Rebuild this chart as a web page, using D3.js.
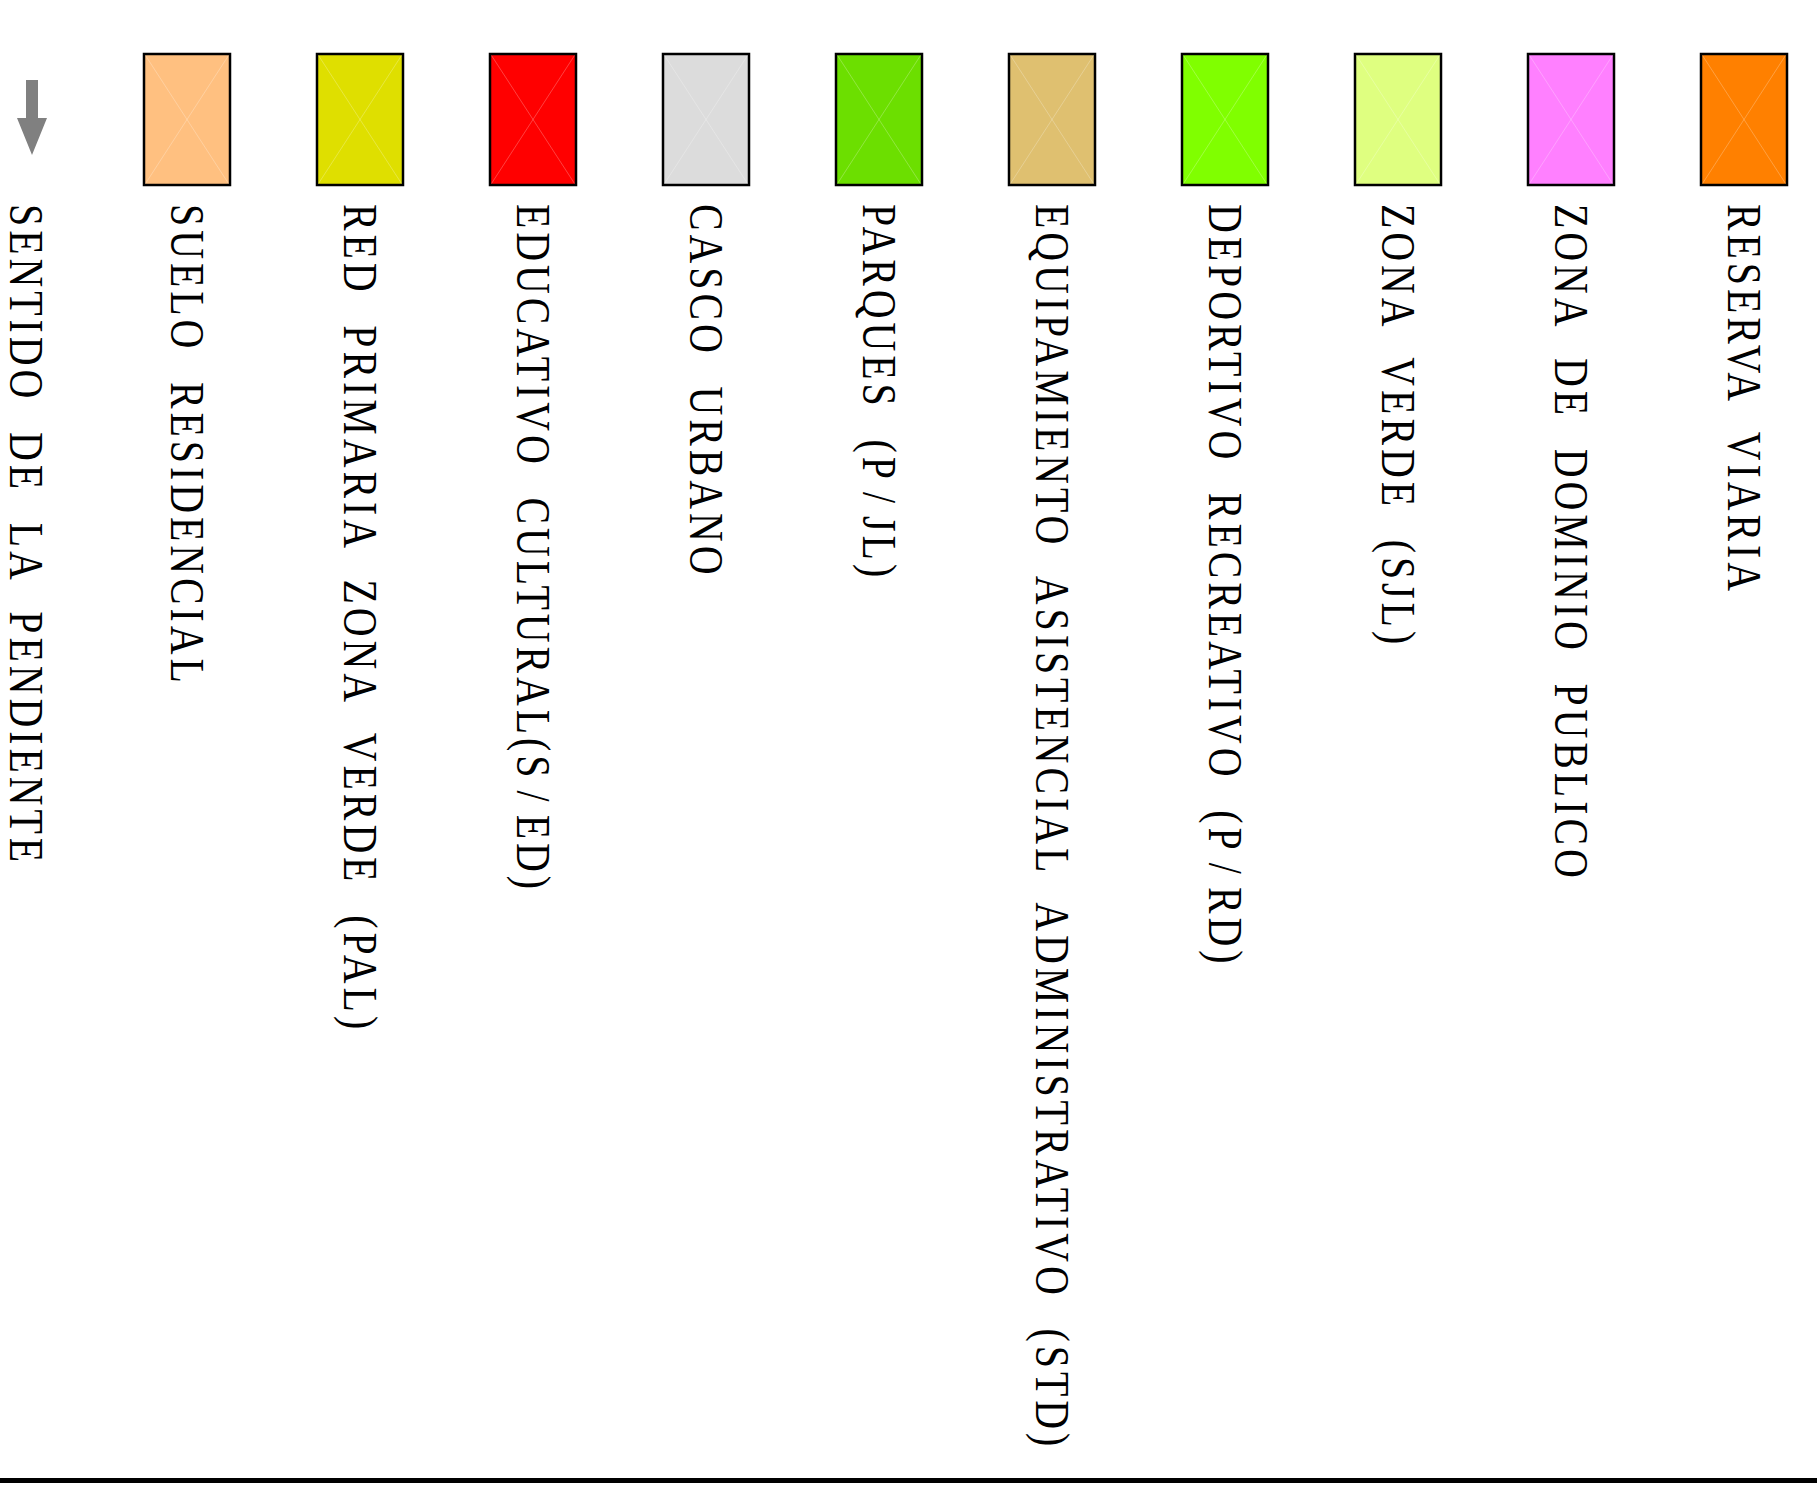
<!DOCTYPE html>
<html>
<head>
<meta charset="utf-8">
<script src="https://cdn.jsdelivr.net/npm/d3@7"></script>
<style>
  html, body { margin: 0; padding: 0; background: #ffffff; }
  svg { display: block; }
</style>
</head>
<body>
<div id="content"></div>
<script>
const WIDTH = 1817;
const HEIGHT = 1510;

// legend entries, left to right
const categories = [
    'SUELO RESIDENCIAL',
    'RED PRIMARIA ZONA VERDE (PAL)',
    'EDUCATIVO CULTURAL(S/ED)',
    'CASCO URBANO',
    'PARQUES (P/JL)',
    'EQUIPAMIENTO ASISTENCIAL ADMINISTRATIVO (STD)',
    'DEPORTIVO RECREATIVO (P/RD)',
    'ZONA VERDE (SJL)',
    'ZONA DE DOMINIO PUBLICO',
    'RESERVA VIARIA'
];
const colors = ['#ffc080', '#dfdf00', '#ff0000', '#dcdcdc', '#6cdf00',
                '#dfc070', '#80ff00', '#dfff80', '#ff80ff', '#ff8000'];
const arrowLabel = 'SENTIDO DE LA PENDIENTE';

let svg = d3.select('#content')
    .append('svg')
    .attr('width', WIDTH)
    .attr('height', HEIGHT);

svg.append('rect')
    .attr('width', WIDTH)
    .attr('height', HEIGHT)
    .attr('fill', '#ffffff');

let x = d3.scalePoint()
    .domain(categories)
    .range([187, 1744]);

const SW_W = 86;
const SW_H = 131;
const SW_TOP = 54;
const TEXT_TOP = 204;
const CAP = 32;

let _drawLabel = function (ctx, cx, label) {
    let t = ctx.append('text')
        .attr('transform', `translate(${cx - CAP / 2},${TEXT_TOP}) rotate(90) scale(0.83,1)`)
        .attr('font-family', '"Liberation Serif", "Times New Roman", serif')
        .attr('font-size', 48)
        .attr('letter-spacing', 4.8)
        .attr('word-spacing', 19)
        .attr('fill', '#000');
    // the slash in the original font is wider, so pad around it
    let parts = label.split(/(\/)/);
    t.selectAll('tspan')
        .data(parts)
        .join('tspan')
        .attr('dx', (d, i) => (d === '/' || (i > 0 && parts[i - 1] === '/')) ? 11 : 0)
        .text(d => d);
}

// swatches
let items = svg.append('g')
    .selectAll('g')
    .data(categories)
    .join('g')
    .attr('transform', d => `translate(${x(d)},0)`);

items.append('rect')
    .attr('x', -SW_W / 2)
    .attr('y', SW_TOP)
    .attr('width', SW_W)
    .attr('height', SW_H)
    .attr('fill', (d, i) => colors[i])
    .attr('stroke', '#000')
    .attr('stroke-width', 2.5);

// faint diagonals inside each box
items.append('path')
    .attr('d', `M${-SW_W / 2 + 1.5},${SW_TOP + 1.5}L${SW_W / 2 - 1.5},${SW_TOP + SW_H - 1.5}` +
               `M${SW_W / 2 - 1.5},${SW_TOP + 1.5}L${-SW_W / 2 + 1.5},${SW_TOP + SW_H - 1.5}`)
    .attr('stroke', '#ffffff')
    .attr('stroke-opacity', 0.25)
    .attr('stroke-width', 1)
    .attr('fill', 'none');

items.each(function (d) {
    _drawLabel(d3.select(this), 0, d);
});

// slope arrow
let arrowX = 32;
svg.append('path')
    .attr('d', `M${arrowX - 6},80 L${arrowX + 6},80 L${arrowX + 6},118 L${arrowX + 15},118 ` +
               `L${arrowX},155 L${arrowX - 15},118 L${arrowX - 6},118 Z`)
    .attr('fill', '#808080');
_drawLabel(svg, 26, arrowLabel);

// bottom rule
svg.append('rect')
    .attr('x', 0)
    .attr('y', 1478)
    .attr('width', WIDTH)
    .attr('height', 5)
    .attr('fill', '#000');
</script>
</body>
</html>
